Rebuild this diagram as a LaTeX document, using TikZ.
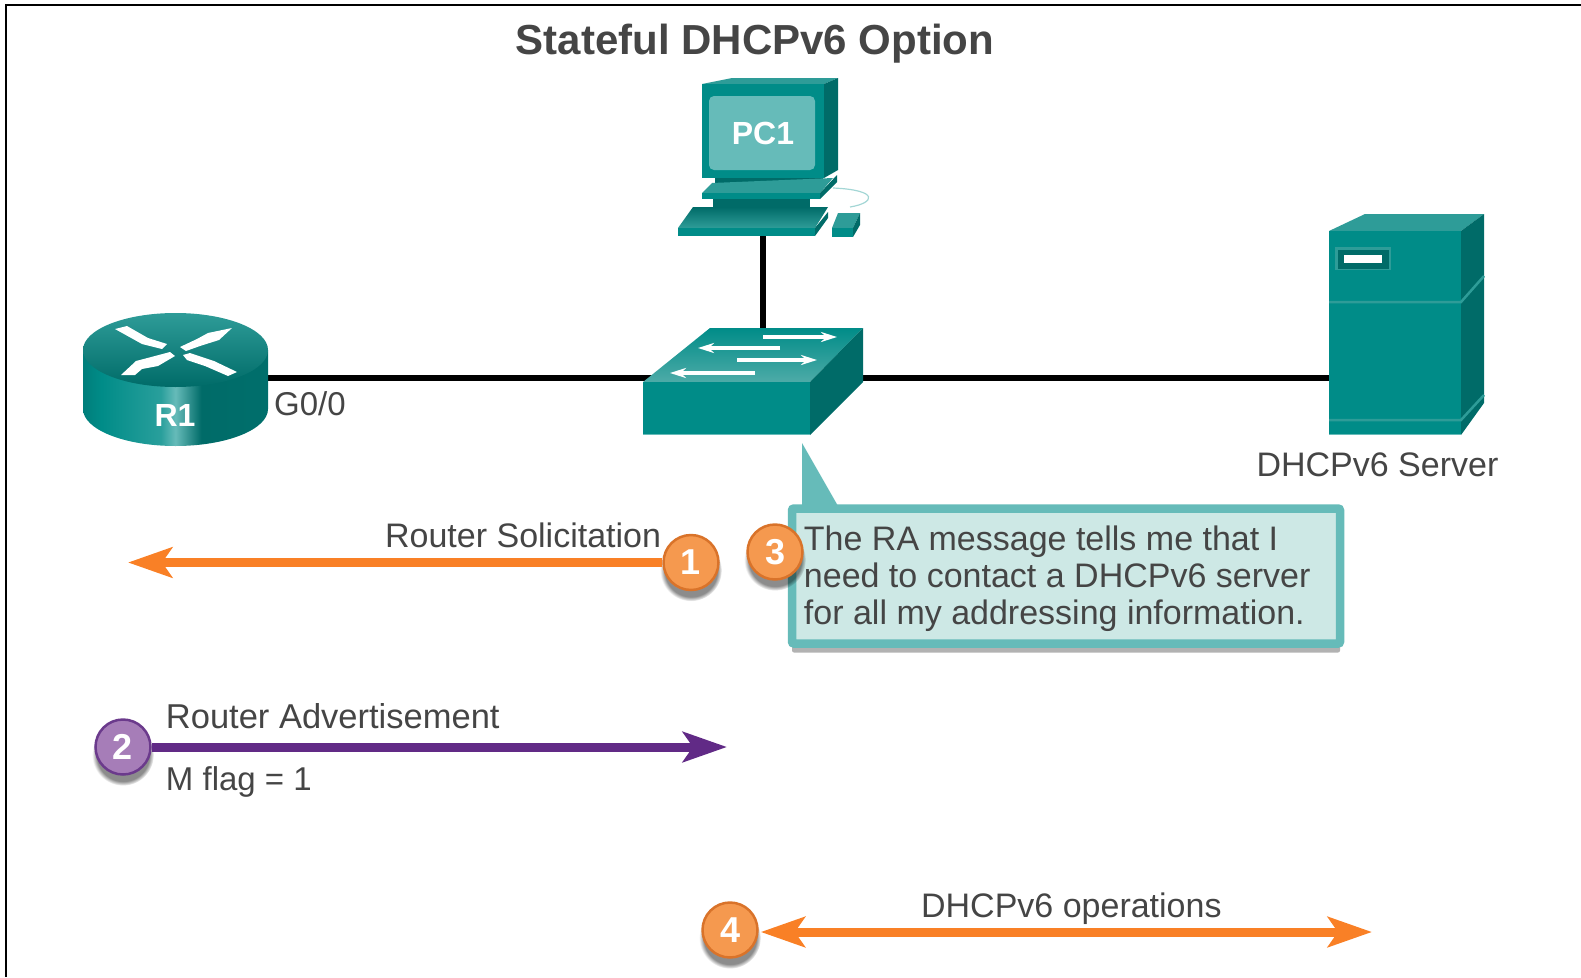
\documentclass[tikz,border=0pt]{standalone}
\usepackage{fontspec}
\setmainfont{Liberation Sans}
\usepackage{xcolor}
\usepackage{tikz}
\usetikzlibrary{positioning}
\usetikzlibrary{arrows.meta}
\usetikzlibrary{shadows}

\definecolor{teal}{HTML}{008C88}
\definecolor{tealdark}{HTML}{006B68}
\definecolor{teallight}{HTML}{2E9C98}
\definecolor{tealpale}{HTML}{66BBB9}
\definecolor{notefill}{HTML}{CDE8E5}
\definecolor{txtgray}{HTML}{454545}
\definecolor{orangeline}{HTML}{F98026}
\definecolor{orangefill}{HTML}{F5994F}
\definecolor{orangeedge}{HTML}{D9732A}
\definecolor{purpleline}{HTML}{612A86}
\definecolor{purplefill}{HTML}{A67DB8}
\definecolor{purpleedge}{HTML}{6B3A8C}

\pgfdeclarehorizontalshading{routerside}{100bp}{
  color(0bp)=(tealpale!70!teal); color(2bp)=(tealdark); color(18bp)=(tealdark);
  color(30bp)=(teal); color(46bp)=(teal!60!tealpale); color(50bp)=(tealpale);
  color(57bp)=(tealdark); color(80bp)=(teal!80!black); color(100bp)=(tealdark!70!black)}

\begin{document}
\begin{tikzpicture}[x=1pt,y=-1pt,
  box/.style={minimum width=#1,inner sep=0pt,outer sep=0pt},
  link/.style={line width=6pt,black},
  txt/.style={inner sep=0pt,text=txtgray,font=\fontsize{34}{37}\selectfont},
  badge/.style={circle,draw=#1edge,fill=#1fill,line width=2.5pt,minimum size=55pt,inner sep=0pt,
    text=white,font=\fontsize{36}{36}\selectfont\bfseries,
    circular drop shadow={shadow xshift=0pt,shadow yshift=-7pt,shadow scale=1.12,fill=black,opacity=.45}},
  flow/.style={line width=9pt,#1line,-{Stealth[length=44pt,width=30pt,inset=10pt]}},
  devtext/.style={inner sep=0pt,text=white,font=\fontsize{32}{32}\selectfont\bfseries}]
\useasboundingbox (0,0) rectangle (1581,977);

% Frame, open on two sides
\coordinate (framea) at (1581,5);
\coordinate (frameb) at (6,977);
\draw [line width=2.5pt] (framea) -| (frameb);

\node [txt, font=\fontsize{42}{42}\selectfont\bfseries] (title) at (755,44) {Stateful DHCPv6 Option};

% Device areas, the links run between them
\node [box=185pt, minimum height=136pt] (r1) at (175.5,378) {};
\node [box=200pt, minimum height=100pt] (sw) at (753,378) {};
\node [box=155pt, minimum height=114pt] (srv) at (1406.5,378) {};
\node [box=190pt, minimum height=157pt] (pc) at (763,157) {};

\draw [link] (r1.east) -- (sw.west);
\draw [link] (sw.east) -- (srv.west);
\draw [link] (pc.south) -- (pc.south |- sw.north);

% Router
\path [shading=routerside] (83,350) -- (83,409) arc [start angle=180, end angle=360, x radius=92.5pt, y radius=37pt] -- (268,350) -- cycle;
\path [top color=teallight, bottom color=tealdark] (175.5,350) ellipse [x radius=92.5pt, y radius=37pt];
\fill [white] (115,329) -- (127,326) -- (148,338) -- (167,344) -- (162,349) -- (142,344) -- cycle;
\fill [white] (180,347) -- (197,339) -- (208,333) -- (232,328) -- (219,340) -- (200,346) -- (186,351) -- cycle;
\fill [white] (121,375) -- (136,361) -- (155,356) -- (170,352) -- (175,356) -- (158,366) -- (142,369) -- (135,375) -- cycle;
\fill [white] (183,355) -- (190,353) -- (208,359) -- (214,361) -- (237,372) -- (228,376) -- (205,366) -- (187,360) -- cycle;
\node [devtext] (r1name) at (175,415) {R1};

% Switch
\path [top color=teal, bottom color=teallight!85!white] (643,382) -- (710,328) -- (863,328) -- (810,382) -- cycle;
\fill [tealdark] (810,382) -- (863,328) -- (863,382) -- (810,435) -- cycle;
\fill [teal] (643,382) rectangle (810,435);
\draw [tealpale, line width=1.5pt] (643,434.5) -- (810,434.5);
\foreach \xa/\xb/\ya in {763/837/337, 780/698/348, 737/817/360, 755/670/373}
  \draw [white, line width=3.5pt, -{Stealth[length=16pt,width=10pt]}] (\xa,\ya) -- (\xb,\ya);

% PC
\fill [teallight] (702,84) -- (732,78) -- (838,78) -- (824,84) -- cycle;
\fill [tealdark] (824,84) -- (838,78) -- (838,170) -- (824,178) -- cycle;
\fill [teal] (702,84) rectangle (824,178);
\fill [tealpale, rounded corners=5pt] (709,96) rectangle (815,170);
\node [devtext] (pcname) at (763,133) {PC1};
\fill [tealdark] (715,178) rectangle (823,185);
\fill [teallight] (702,193) -- (712,183) -- (833,178) -- (820,193) -- cycle;
\fill [tealdark] (820,193) -- (837,175) -- (837,182) -- (820,199) -- cycle;
\fill [teal] (702,193) rectangle (820,199);
\fill [tealdark] (713,199) rectangle (810,207);
\path [top color=tealdark, bottom color=teallight] (693,207) -- (828,207) -- (815,228) -- (678,228) -- cycle;
\fill [tealdark] (815,228) -- (828,212) -- (828,218) -- (815,236) -- cycle;
\fill [teal] (678,228) rectangle (815,236);
\draw [tealpale!60!white, line width=1.2pt] (833,188) .. controls (880,190) and (875,203) .. (850,207);
\fill [teallight] (838,213) -- (860,213) -- (853,228) -- (832,228) -- cycle;
\fill [teal] (832,228) rectangle (853,237);
\fill [tealdark] (853,228) -- (860,213) -- (860,225) -- (853,237) -- cycle;

% Server
\fill [teallight] (1329,231) -- (1365,214) -- (1484,214) -- (1461,231) -- cycle;
\fill [tealdark] (1461,231) -- (1484,214) -- (1484,403) -- (1461,435) -- cycle;
\fill [teal] (1329,231) rectangle (1461,435);
\draw [teallight, line width=2.5pt] (1329,302) -- (1461,302) -- (1484,276);
\draw [teallight, line width=2.5pt] (1329,420) -- (1461,420) -- (1484,395);
\draw [tealpale, line width=1.5pt] (1329,434.5) -- (1461,434.5);
\fill [teallight] (1335,247) rectangle (1391,270);
\fill [tealdark] (1338,250) rectangle (1389,269);
\fill [white] (1344,255) rectangle (1382,263);

% Device labels
\node [txt, below right=13pt and 6pt of r1.east, font=\fontsize{33}{37}\selectfont] (port) {G0/0};
\node [txt, below=18pt of srv.south, xshift=-29pt] (srvname) {DHCPv6 Server};

% Callout
\coordinate (tailtip) at (802,443);
\coordinate (tailb) at (802,506);
\coordinate (tailc) at (838,506);
\fill [tealpale] (tailtip) -- (tailb) -- (tailc) -- cycle;
\node [draw=tealpale, fill=notefill, line width=8.5pt, rounded corners=2pt, minimum width=548pt, minimum height=135pt,
  drop shadow={shadow xshift=0pt,shadow yshift=-9pt,fill=black,opacity=.3}] (note) at (1066,576) {};
\node [txt, align=left, right=16pt of note.west, yshift=-3pt] (notetext)
  {The RA message tells me that I\\need to contact a DHCPv6 server\\for all my addressing information.};

% Numbered flows
\node [badge=orange] (n1) at (691,562.5) {1};
\node [badge=orange] (n3) at (775,552) {3};
\node [badge=purple] (n2) at (123,747) {2};
\node [badge=orange] (n4) at (730,930) {4};

\coordinate (rsend) at (128,562.5);
\coordinate (raend) at (727,747);
\coordinate (opsend) at (1372,932);

\draw [flow=orange] (n1) -- (rsend);
\draw [flow=purple] (n2) -- (raend);
\draw [flow=orange, {Stealth[length=44pt,width=30pt,inset=10pt]}-{Stealth[length=44pt,width=30pt,inset=10pt]}, shorten <=2pt] (n4.east |- opsend) -- node [txt, above=3pt, xshift=6pt] (opsname) {DHCPv6 operations} (opsend);

\node [txt, above left=14pt and 1pt of n1.west] (rslabel) {Router Solicitation};
\node [txt, above right=18pt and 14pt of n2.east, font=\fontsize{34.5}{37}\selectfont] (ralabel) {Router Advertisement};
\node [txt, below right=19pt and 14pt of n2.east, font=\fontsize{33}{37}\selectfont] (mflag) {M flag = 1};
\end{tikzpicture}
\end{document}
